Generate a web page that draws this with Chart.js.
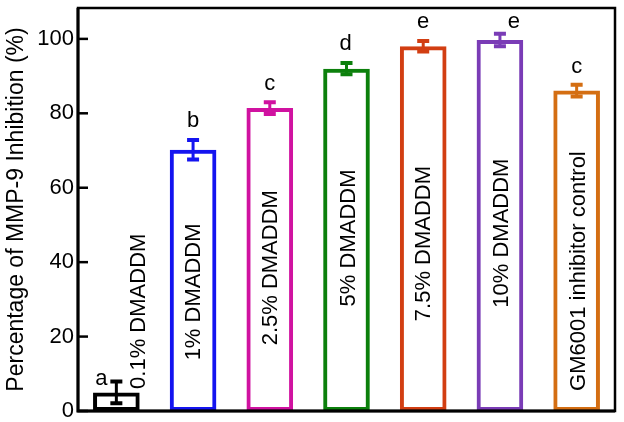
<!DOCTYPE html>
<html>
<head>
<meta charset="utf-8">
<script src="https://cdn.jsdelivr.net/npm/chart.js@4.4.1/dist/chart.umd.min.js"></script>
<style>
  html, body { margin: 0; padding: 0; background: #fff; }
</style>
</head>
<body>
<canvas id="myChart" width="624" height="422"></canvas>
<script>
const categories = ['0.1% DMADDM', '1% DMADDM', '2.5% DMADDM', '5% DMADDM', '7.5% DMADDM', '10% DMADDM', 'GM6001 inhibitor control'];
const inhibition = [5, 70.2, 81.4, 92, 98, 99.7, 86.1];
const errors = [2.9, 2.6, 1.6, 1.5, 1.4, 1.7, 1.6];
const letters = ['a', 'b', 'c', 'd', 'e', 'e', 'c'];
const yTicks = [0, 20, 40, 60, 80, 100];
const colors = ['#000000', '#1414f0', '#d012a0', '#0c800c', '#d23e12', '#7a3cb6', '#d46e12'];

// where the rotated names and the letters sit, relative to each bar
const nameLayout = {
  centerValue: [26.8, 32, 38.5, 46.5, 45, 47.8, 37.6],
  dx: [22, 0, 0, 1, 0, 1, 1],
};
const letterLayout = {
  dx: [-15, 0, 0, -1, 0, 14, 0],
  dy: [-3, -19, -18, -19, -19, -12, -18],
};

const FONT = "'Liberation Sans', Arial, sans-serif";
Chart.defaults.font.family = FONT;
Chart.defaults.color = '#000';

const extras = {
  id: 'extras',
  afterDatasetsDraw(chart) {
    const { ctx, chartArea, scales } = chart;
    const y = scales.y;
    const bars = chart.getDatasetMeta(0).data;
    ctx.save();

    // error bars
    bars.forEach((bar, i) => {
      const top = y.getPixelForValue(inhibition[i] + errors[i]);
      const bot = y.getPixelForValue(inhibition[i] - errors[i]);
      ctx.strokeStyle = colors[i];
      ctx.lineWidth = 3;
      ctx.beginPath();
      ctx.moveTo(bar.x, top);
      ctx.lineTo(bar.x, bot);
      ctx.stroke();
      ctx.lineWidth = 4;
      ctx.beginPath();
      ctx.moveTo(bar.x - 6, top);
      ctx.lineTo(bar.x + 6, top);
      ctx.moveTo(bar.x - 6, bot);
      ctx.lineTo(bar.x + 6, bot);
      ctx.stroke();
    });

    // significance letters
    ctx.fillStyle = '#000';
    ctx.font = '22px ' + FONT;
    ctx.textAlign = 'center';
    ctx.textBaseline = 'middle';
    bars.forEach((bar, i) => {
      const top = y.getPixelForValue(inhibition[i] + errors[i]);
      ctx.fillText(letters[i], bar.x + letterLayout.dx[i], top + letterLayout.dy[i]);
    });

    // rotated names
    ctx.font = '22px ' + FONT;
    bars.forEach((bar, i) => {
      ctx.save();
      ctx.translate(bar.x + nameLayout.dx[i], y.getPixelForValue(nameLayout.centerValue[i]));
      ctx.rotate(-Math.PI / 2);
      ctx.fillText(categories[i], 0, 1);
      ctx.restore();
    });

    // frame and inward ticks
    ctx.strokeStyle = '#000';
    ctx.lineWidth = 2.5;
    ctx.strokeRect(chartArea.left, chartArea.top, chartArea.right - chartArea.left, chartArea.bottom - chartArea.top);
    ctx.lineWidth = 3;
    ctx.beginPath();
    ctx.moveTo(chartArea.left, chartArea.top);
    ctx.lineTo(chartArea.left, chartArea.bottom);
    ctx.lineTo(chartArea.right, chartArea.bottom);
    ctx.stroke();
    ctx.lineWidth = 2.5;
    yTicks.forEach(v => {
      const py = y.getPixelForValue(v);
      ctx.beginPath();
      ctx.moveTo(chartArea.left, py);
      ctx.lineTo(chartArea.left + 10, py);
      ctx.stroke();
    });
    ctx.restore();
  }
};

new Chart(document.getElementById('myChart'), {
  type: 'bar',
  data: {
    labels: categories,
    datasets: [{
      data: inhibition,
      backgroundColor: 'rgba(255,255,255,0)',
      borderColor: colors,
      borderWidth: 4,
      borderSkipped: false,
      barPercentage: 0.8,
      categoryPercentage: 0.76,
    }],
  },
  options: {
    responsive: false,
    animation: false,
    layout: { padding: { left: 0, top: 8, right: 9, bottom: 11 } },
    plugins: { legend: { display: false }, tooltip: { enabled: false } },
    scales: {
      x: { display: false },
      y: {
        min: 0,
        max: 108.3,
        afterFit: (scale) => {
          scale.width = 78;
          scale.paddingTop = 0;
          scale.paddingBottom = 0;
        },
        afterBuildTicks: (scale) => { scale.ticks = yTicks.map(v => ({ value: v })); },
        ticks: { padding: 4, font: { size: 22 }, color: '#000' },
        grid: { display: false, drawTicks: false },
        border: { display: false },
        title: {
          display: true,
          text: 'Percentage of MMP-9 Inhibition (%)',
          font: { size: 23 },
          color: '#000',
          padding: { top: 3, bottom: 0 },
        },
      },
    },
  },
  plugins: [extras],
});
</script>
</body>
</html>
